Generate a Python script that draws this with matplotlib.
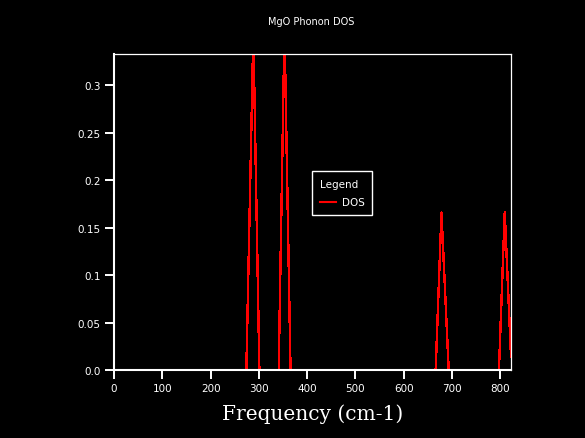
import matplotlib
matplotlib.use("Agg")
import matplotlib.pyplot as plt

# Data (frequency in cm-1, DOS values)
freq = [0, 274, 288.5, 301, 341, 353, 365.5, 666, 678, 693, 797, 809, 822]
dos = [0, 0, 0.355, 0, 0, 0.36, 0, 0, 0.166, 0, 0, 0.166, 0.014]

x_ticks = [0, 100, 200, 300, 400, 500, 600, 700, 800]
y_ticks = [0.0, 0.05, 0.1, 0.15, 0.2, 0.25, 0.3]
y_tick_labels = ["0.0", "0.05", "0.1", "0.15", "0.2", "0.25", "0.3"]

fig = plt.figure(figsize=(5.85, 4.39), dpi=100, facecolor="black")
ax = fig.add_axes([114 / 585, 1 - 371 / 439, (511 - 114) / 585, (371 - 55) / 439])
ax.set_facecolor("black")

ax.plot(freq, dos, color="red", linewidth=1.0, antialiased=False, label="DOS",
        clip_on=True)

ax.set_xlim(0, 822)
ax.set_ylim(0, 0.333)
ax.set_xticks(x_ticks)
ax.set_yticks(y_ticks)
ax.set_yticklabels(y_tick_labels)

for side in ["left", "bottom"]:
    ax.spines[side].set_color("white")
    ax.spines[side].set_linewidth(1.5)
for side in ["top", "right"]:
    ax.spines[side].set_color("white")
    ax.spines[side].set_linewidth(0.9)

ax.tick_params(axis="both", direction="out", length=6.5, width=1.4,
               color="white", labelcolor="white", labelsize=7.5, pad=3)

ax.set_xlabel("Frequency (cm-1)", color="white", fontsize=14.5,
              family="DejaVu Serif", labelpad=7)
fig.text(311 / 585, 1 - 22 / 439, "MgO Phonon DOS", color="white",
         fontsize=7, ha="center", va="center")

leg = ax.legend(loc="upper left", bbox_to_anchor=(312 / 585, 1 - 172 / 439),
                bbox_transform=fig.transFigure, title="Legend",
                fontsize=7.5, title_fontsize=7.5, frameon=True, fancybox=False,
                facecolor="black", edgecolor="white", framealpha=1,
                handlelength=1.6, borderpad=0.75, borderaxespad=0,
                handletextpad=0.5, labelspacing=0.8, labelcolor="white")
leg.get_title().set_color("white")
leg.get_frame().set_linewidth(1.0)
leg.get_lines()[0].set_linewidth(1.5)
leg._legend_box.align = "left"

fig.savefig("out.png", dpi=100, facecolor="black")
